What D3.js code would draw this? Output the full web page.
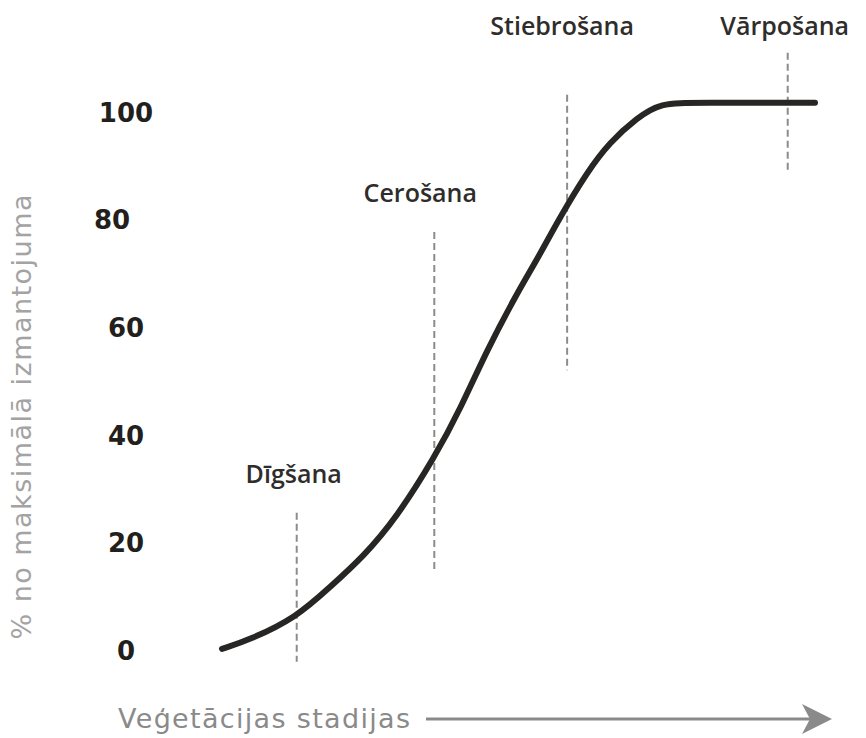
<!DOCTYPE html>
<html>
<head>
<meta charset="utf-8">
<script src="https://cdn.jsdelivr.net/npm/d3@7"></script>
<style>
  body { margin: 0; background: #fff; }
  svg { display: block; font-family: "Open Sans", "Noto Sans", sans-serif; }
</style>
</head>
<body>
<div id="chart"></div>
<script>
// growth curve, x = progress through season (0-100), y = % of max use
var curveX = [0, 4.7, 12.6, 18.2, 23.8, 29.5, 35.9, 40.1, 44.7, 49.8, 53.1, 56.7, 61.6, 65.4, 70.0, 73.9, 80, 100];
var curveY = [0.2, 1.9, 6.1, 11.7, 17.3, 24.7, 35.9, 44.6, 55.8, 66.4, 72.5, 79.9, 88.9, 94.4, 98.9, 101.7, 101.7, 101.7];

var stageNames = ["Dīgšana", "Cerošana", "Stiebrošana", "Vārpošana"];
var stageX = [12.6, 35.8, 58.2, 95.4];
var stageTop = [25.5, 77.7, 103.2, 111];
var stageBottom = [-2.2, 14.9, 52, 88.8];

var yTicks = [0, 20, 40, 60, 80, 100];

var yTitle = "% no maksimālā izmantojuma";
var xTitle = "Veģetācijas stadijas";

var width = 866, height = 738;

var svg = d3.select("#chart").append("svg")
  .attr("width", width)
  .attr("height", height);

var xScale = d3.scaleLinear().domain([0, 100]).range([222, 815]);
var yScale = d3.scaleLinear().domain([0, 100]).range([650, 112]);

/// y tick labels
var yAxis = d3.axisLeft(yScale).tickValues(yTicks).tickSize(0).tickPadding(0);
var gY = svg.append("g")
  .attr("transform", "translate(126,0)")
  .call(yAxis);
gY.select(".domain").remove();
gY.selectAll("text")
  .attr("text-anchor", "middle")
  .attr("dy", "0.36em")
  .attr("dx", function (d) { return d === 80 ? -14 : 0; })
  .style("font-family", "'DejaVu Sans', sans-serif")
  .style("font-weight", "bold")
  .style("font-size", "26px")
  .style("fill", "#231f1d");

/// stage lines
svg.append("g").selectAll("line")
  .data(stageNames)
  .enter()
  .append("line")
  .attr("x1", function (d, i) { return xScale(stageX[i]); })
  .attr("x2", function (d, i) { return xScale(stageX[i]); })
  .attr("y1", function (d, i) { return yScale(stageTop[i]); })
  .attr("y2", function (d, i) { return yScale(stageBottom[i]); })
  .attr("stroke", "#8c8c8c")
  .attr("stroke-width", 2)
  .attr("stroke-dasharray", "7,4");

/// stage labels
svg.append("g").selectAll("text")
  .data(stageNames)
  .enter()
  .append("text")
  .attr("x", function (d, i) { return xScale(stageX[i]) + [-3, -14, -5, -3][i]; })
  .attr("y", function (d, i) { return i >= 2 ? 35 : yScale(stageTop[i]) - 30; })
  .attr("text-anchor", "middle")
  .style("font-size", "25px")
  .style("font-weight", 600)
  .style("fill", "#2f2d2b")
  .text(function (d) { return d; });

/// curve
var pts = curveX.map(function (x, i) { return [x, curveY[i]]; });
var line = d3.line()
  .x(function (d) { return xScale(d[0]); })
  .y(function (d) { return yScale(d[1]); })
  .curve(d3.curveBasis);

svg.append("path")
  .datum(pts)
  .attr("d", line)
  .attr("fill", "none")
  .attr("stroke", "#282624")
  .attr("stroke-width", 6)
  .attr("stroke-linecap", "round")
  .attr("stroke-linejoin", "round");

/// y title
svg.append("text")
  .attr("transform", "translate(31,417)rotate(-90)")
  .attr("text-anchor", "middle")
  .attr("textLength", 445)
  .attr("lengthAdjust", "spacing")
  .style("font-family", "'DejaVu Sans', sans-serif")
  .style("font-size", "27px")
  .style("fill", "#a3a3a3")
  .text(yTitle);

/// x title and arrow
svg.append("text")
  .attr("x", 118)
  .attr("y", 728)
  .attr("textLength", 292)
  .attr("lengthAdjust", "spacing")
  .style("font-family", "'DejaVu Sans', sans-serif")
  .style("font-size", "27px")
  .style("fill", "#8a8a8a")
  .text(xTitle);

svg.append("line")
  .attr("x1", 426).attr("x2", 812)
  .attr("y1", 719).attr("y2", 719)
  .attr("stroke", "#8a8a8a")
  .attr("stroke-width", 3);

svg.append("path")
  .attr("d", "M832,719 L802,704 L810,719 L802,734 Z")
  .attr("fill", "#8a8a8a");
</script>
</body>
</html>
